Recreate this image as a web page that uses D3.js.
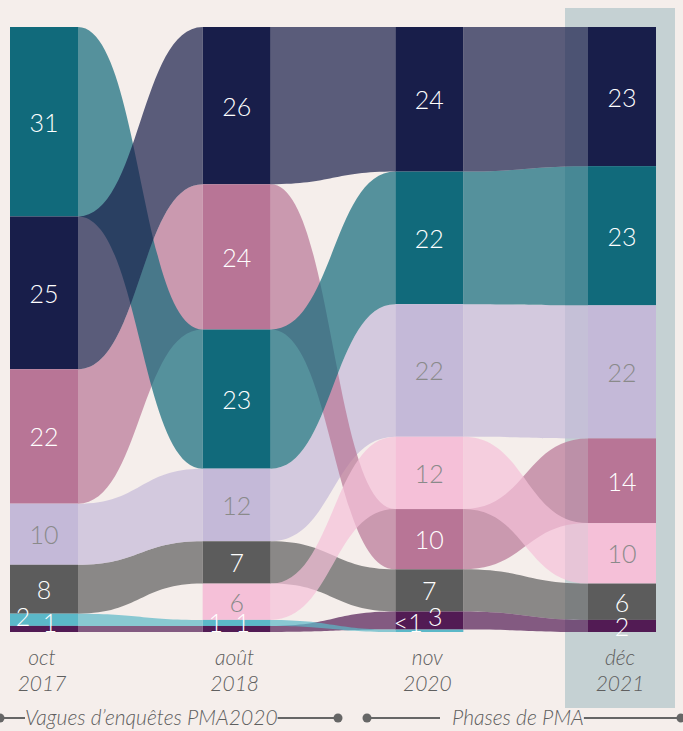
<!DOCTYPE html>
<html>
<head>
<meta charset="utf-8">
<script src="https://cdn.jsdelivr.net/npm/d3@7"></script>
<style>
    body { margin: 0; background: #f5eeeb; }
    svg { display: block; }
</style>
</head>
<body>
<div id="chart"></div>
<script>
// categories (no legend in the picture, keyed by colour)
const categories = ["gris", "violet", "cyan", "lavande", "mauve", "rose", "sarcelle", "bleuNuit"];
const colors = {
    bleuNuit: "#181e4a", sarcelle: "#116a7b", lavande: "#c4b9d8", mauve: "#b87596",
    rose: "#f5c0d8", gris: "#5c5c5c", violet: "#521b54", cyan: "#5bb8c8"
};
const darkText = ["lavande", "rose"];

// waves
const waveMonths = ["oct", "août", "nov", "déc"];
const waveYears = ["2017", "2018", "2020", "2021"];

// stacking order (top to bottom) and values, per wave
const order2017 = ["sarcelle", "bleuNuit", "mauve", "lavande", "gris", "cyan", "violet"];
const values2017 = [31, 25, 22, 10, 8, 2, 1];
const order2018 = ["bleuNuit", "mauve", "sarcelle", "lavande", "gris", "rose", "cyan", "violet"];
const values2018 = [26, 24, 23, 12, 7, 6, 1, 1];
const order2020 = ["bleuNuit", "sarcelle", "lavande", "rose", "mauve", "gris", "violet", "cyan"];
const values2020 = [24, 22, 22, 12, 10, 7, 3, 0.4];
const order2021 = ["bleuNuit", "sarcelle", "lavande", "mauve", "rose", "gris", "violet"];
const values2021 = [23, 23, 22, 14, 10, 6, 2];

const footerLeft = "Vagues d’enquêtes PMA2020";
const footerRight = "Phases de PMA";

const columns = [
    { order: order2017, values: values2017 },
    { order: order2018, values: values2018 },
    { order: order2020, values: values2020 },
    { order: order2021, values: values2021 }
];

const width = 683, height = 731;
const nodeW = 68;
const yTop = 27, yBottom = 632;
const font = "Lato, 'Open Sans', sans-serif";

const svg = d3.select("#chart")
    .append("svg")
    .attr("width", width)
    .attr("height", height);

svg.append("rect")
    .attr("width", width)
    .attr("height", height)
    .attr("fill", "#f5eeeb");

const x = d3.scaleLinear()
    .domain([0, columns.length - 1])
    .range([10, 588]);

// highlight behind the last wave
svg.append("rect")
    .attr("x", x(3) - 23)
    .attr("y", 8)
    .attr("width", nodeW + 42)
    .attr("height", 700)
    .attr("fill", "#c5d1d3");

// build nodes
const nodes = [];
columns.forEach((col, i) => {
    const y = d3.scaleLinear()
        .domain([0, d3.sum(col.values)])
        .range([yTop, yBottom]);
    let acc = 0;
    col.order.forEach((cat, j) => {
        const v = col.values[j];
        nodes.push({
            col: i, cat: cat, value: v, rank: j,
            x0: x(i), x1: x(i) + nodeW,
            y0: y(acc), y1: y(acc + v)
        });
        acc += v;
    });
});

// build links between consecutive waves
const links = [];
for (let i = 0; i < columns.length - 1; i++) {
    categories.forEach(cat => {
        const s = nodes.find(n => n.col === i && n.cat === cat);
        const t = nodes.find(n => n.col === i + 1 && n.cat === cat);
        if (s && t) links.push({ cat: cat, source: s, target: t });
    });
}

function bandPath(d) {
    const s = d.source, t = d.target;
    const xm = (s.x1 + t.x0) / 2;
    const p = d3.path();
    p.moveTo(s.x1, s.y0);
    p.bezierCurveTo(xm, s.y0, xm, t.y0, t.x0, t.y0);
    p.lineTo(t.x0, t.y1);
    p.bezierCurveTo(xm, t.y1, xm, s.y1, s.x1, s.y1);
    p.closePath();
    return p.toString();
}

svg.append("g")
    .selectAll("path")
    .data(links)
    .join("path")
    .attr("d", bandPath)
    .attr("fill", d => colors[d.cat])
    .attr("fill-opacity", 0.7);

svg.append("g")
    .selectAll("rect")
    .data(nodes)
    .join("rect")
    .attr("x", d => d.x0)
    .attr("y", d => d.y0)
    .attr("width", nodeW)
    .attr("height", d => d.y1 - d.y0)
    .attr("fill", d => colors[d.cat]);

// value labels: big ones centred, small ones side by side at the bottom
const labelData = [];
columns.forEach((col, i) => {
    const colNodes = nodes.filter(n => n.col === i);
    const small = colNodes.filter(n => n.value <= 3);
    const upper = d3.min(small, n => n.rank);
    const cx = x(i) + nodeW / 2;
    colNodes.forEach(n => {
        const txt = n.value < 1 ? "<1" : String(n.value);
        if (small.length > 1 && n.value <= 3) {
            const left = n.cat === "cyan";
            const lift = n.rank === upper && n.value !== small.find(s => s !== n).value ? 6 : 0;
            labelData.push({ n, txt, x: cx + (left ? -21 : 6), y: yBottom - lift, base: "auto", size: 25 });
        } else {
            labelData.push({ n, txt, x: cx, y: (n.y0 + n.y1) / 2, base: "central", size: 25 });
        }
    });
});

svg.append("g")
    .selectAll("text")
    .data(labelData)
    .join("text")
    .attr("x", d => d.x)
    .attr("y", d => d.y)
    .attr("text-anchor", "middle")
    .attr("dominant-baseline", d => d.base)
    .attr("font-family", font)
    .attr("font-weight", 300)
    .attr("font-size", d => d.size)
    .attr("fill", d => darkText.includes(d.n.cat) ? "#8a8a8a" : "#ffffff")
    .text(d => d.txt);

// wave labels
const axis = svg.append("g")
    .attr("font-family", font)
    .attr("font-style", "italic")
    .attr("font-weight", 300)
    .attr("font-size", 21)
    .attr("fill", "#5f5f5f")
    .attr("text-anchor", "middle");

waveMonths.forEach((m, i) => {
    const cx = x(i) + nodeW / 2 - 2;
    axis.append("text").attr("x", cx).attr("y", 665).text(m);
    axis.append("text").attr("x", cx).attr("y", 691).text(waveYears[i]);
});

// footer with lines and end dots
const fy = 718;
const footer = svg.append("g")
    .attr("font-family", font)
    .attr("font-style", "italic")
    .attr("font-weight", 300)
    .attr("font-size", 21)
    .attr("fill", "#5f5f5f");

function segment(x1, x2) {
    footer.append("line")
        .attr("x1", x1).attr("x2", x2)
        .attr("y1", fy).attr("y2", fy)
        .attr("stroke", "#666")
        .attr("stroke-width", 2);
}
function dot(cx) {
    footer.append("circle").attr("cx", cx).attr("cy", fy).attr("r", 4.5).attr("fill", "#666");
}

const t1 = footer.append("text").attr("x", 25).attr("y", fy + 7).text(footerLeft);
const t1end = 25 + t1.node().getComputedTextLength();
segment(0, 25);
segment(t1end, 338);
dot(0);
dot(338);

const t2 = footer.append("text").attr("x", 452).attr("y", fy + 7).text(footerRight);
const t2end = 452 + t2.node().getComputedTextLength();
segment(367, 440);
segment(t2end, 681);
dot(367);
dot(681);
</script>
</body>
</html>
